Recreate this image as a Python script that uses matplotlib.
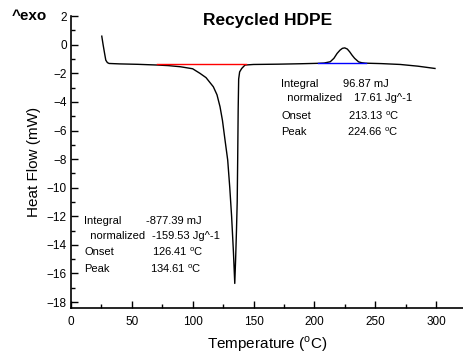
import matplotlib
matplotlib.use('Agg')
import matplotlib.pyplot as plt
from matplotlib.ticker import MultipleLocator

plt.rcParams['font.family'] = ['Liberation Sans', 'DejaVu Sans']
plt.rcParams['mathtext.fontset'] = 'custom'
plt.rcParams['mathtext.rm'] = 'Liberation Sans'

# DSC curve
temperature = [25.4, 26.5, 27.7, 28.7, 30, 31.4, 40, 55, 71, 80, 90, 100, 106, 111, 117,
               120, 122.5, 124.5, 126.6, 128.8, 130.5, 132, 133.5, 134.6,
               135.3, 136, 136.6, 137, 137.4, 137.8, 138.6, 140.3, 143, 150, 170, 188.5,
               203, 208, 213, 216, 218.6, 221, 223, 224.9, 227, 229, 230.9, 233,
               236.3, 239, 242, 255, 270.5, 285, 299]
heat_flow = [0.6, 0.0, -0.6, -1.08, -1.25, -1.31, -1.34, -1.37, -1.42, -1.46, -1.54, -1.68,
             -2.0, -2.3, -2.94, -3.5, -4.34, -5.3, -6.67, -8.07, -10.0, -12.0, -14.5, -16.7,
             -15.0, -13.0, -11.0, -8.0, -4.5, -2.4, -1.9, -1.66, -1.42,
             -1.38, -1.36, -1.33, -1.3, -1.28, -1.19, -0.95, -0.61, -0.38, -0.25, -0.22,
             -0.3, -0.5, -0.73, -0.95, -1.2, -1.26, -1.29, -1.32, -1.38, -1.5, -1.66]

# integration baselines
melt_base_x = [71, 143.5]
melt_base_y = [-1.38, -1.38]
exo_base_x = [203, 242]
exo_base_y = [-1.26, -1.26]

melt_labels = ['Integral', '  normalized', 'Onset', 'Peak']
melt_values = ['-877.39 mJ', '-159.53 Jg^-1', '126.41 $^\\mathregular{o}$C',
               '134.61 $^\\mathregular{o}$C']
exo_labels = ['Integral', '  normalized', 'Onset', 'Peak']
exo_values = ['96.87 mJ', '17.61 Jg^-1', '213.13 $^\\mathregular{o}$C',
              '224.66 $^\\mathregular{o}$C']

fig = plt.figure(figsize=(4.63, 3.59), dpi=100)
ax = fig.add_axes([0.153, 0.142, 0.847, 0.813])

ax.plot(temperature, heat_flow, color='black', lw=1.0)
ax.plot(melt_base_x, melt_base_y, color='red', lw=1.0)
ax.plot(exo_base_x, exo_base_y, color='blue', lw=1.0)

ax.set_xlim(0, 322)
ax.set_ylim(-18.42, 2)
ax.xaxis.set_major_locator(MultipleLocator(50))
ax.xaxis.set_minor_locator(MultipleLocator(25))
ax.yaxis.set_major_locator(MultipleLocator(2))
ax.yaxis.set_minor_locator(MultipleLocator(1))
ax.tick_params(which='both', direction='in', labelsize=8.5, width=1)
ax.tick_params(which='major', length=5)
ax.tick_params(which='minor', length=3)
ax.tick_params(axis='x', pad=6)
ax.tick_params(axis='y', pad=3)
ax.spines['top'].set_visible(False)
ax.spines['right'].set_visible(False)
ax.spines['left'].set_linewidth(1.2)
ax.spines['bottom'].set_linewidth(1.2)

ax.set_xlabel('Temperature ($^\\mathregular{o}$C)', fontsize=11)
ax.set_ylabel('Heat Flow (mW)', fontsize=11, labelpad=4)
fig.text(268 / 463, 1 - 20 / 359, 'Recycled HDPE', fontsize=12.5,
         fontweight='bold', ha='center', va='center')
fig.text(0.026, 0.955, '^exo', fontsize=11, fontweight='bold', va='center')

# annotation blocks
for i, (lab, val) in enumerate(zip(exo_labels, exo_values)):
    y = [-2.75, -3.75, -4.97, -6.09][i]
    ax.text(172.6, y, lab, fontsize=8, va='center')
    ax.text([223.3, 232.6, 227.4, 226.6][i], y, val, fontsize=8, va='center')

for i, (lab, val) in enumerate(zip(melt_labels, melt_values)):
    y = [-12.34, -13.38, -14.48, -15.69][i]
    ax.text(10.9, y, lab, fontsize=8, va='center')
    ax.text([61.4, 66.8, 66.3, 64.9][i], y, val, fontsize=8, va='center')

fig.savefig('out.png', dpi=100)
